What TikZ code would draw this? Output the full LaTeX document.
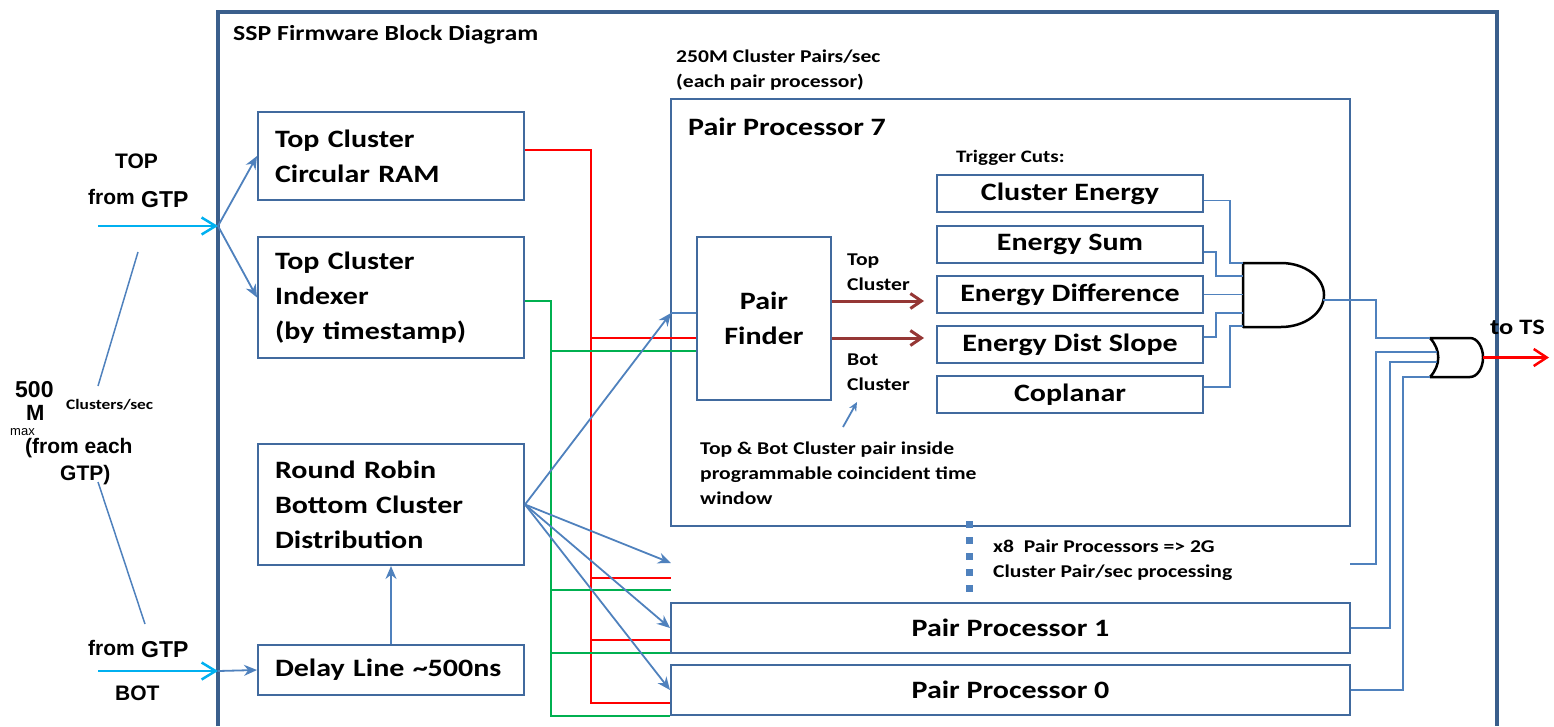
\documentclass[tikz,border=0pt]{standalone}
\usepackage{fontspec}
\setmainfont{Carlito}[FakeStretch=1.2]
\newfontfamily\arialfont{Liberation Sans}
\usetikzlibrary{arrows.meta}

\definecolor{framec}{RGB}{58,95,140}
\definecolor{boxc}{RGB}{65,106,158}
\definecolor{wirec}{RGB}{79,129,189}
\definecolor{gtpc}{RGB}{0,176,240}
\definecolor{topbus}{RGB}{255,0,0}
\definecolor{botbus}{RGB}{0,176,80}
\definecolor{pairc}{RGB}{149,55,53}

\newcommand\boxtxt{\fontsize{25}{35}\selectfont\bfseries}
\newcommand\lbltxt{\fontsize{18}{25}\selectfont\bfseries}
\newcommand\gtptxt{\arialfont\fontsize{21}{25}\selectfont\bfseries}

\begin{document}
\begin{tikzpicture}[x=1pt, y=-1pt,
    blk/.style={rectangle, draw=boxc, line width=2pt, inner xsep=17pt, inner ysep=0pt, text width=232pt, align=left, minimum height=#1, font=\boxtxt},
    cut/.style={rectangle, draw=boxc, line width=2pt, minimum width=266pt, minimum height=37pt, inner sep=0pt, font=\boxtxt},
    proc/.style={rectangle, draw=boxc, line width=2pt, minimum width=679pt, inner sep=0pt, font=\boxtxt},
    lbl/.style={inner sep=0pt, font=\lbltxt, align=left},
    gtp/.style={inner sep=0pt, font=\gtptxt},
    wire/.style={draw=wirec, line width=1.8pt},
    feed/.style={wire, -{Stealth[length=13pt,width=11pt]}},
    hint/.style={wire, -{Stealth[length=9pt,width=8pt]}},
    gtpin/.style={draw=gtpc, line width=2.5pt, -{Straight Barb[length=14pt,width=17pt]}},
    topline/.style={draw=topbus, line width=2pt},
    botline/.style={draw=botbus, line width=2pt},
    pairarrow/.style={draw=pairc, line width=3pt, -{Straight Barb[length=11pt,width=15pt]}},
    trig/.style={draw=topbus, line width=2.5pt, -{Straight Barb[length=13pt,width=17pt]}},
    gate/.style={draw=black, line width=2.5pt, line join=round}
]
\useasboundingbox (0,0) rectangle (1554,726);

% Frame
\draw[draw=framec, line width=3.5pt] (218,726) -- (218,12) -- (1497,12) -- (1497,726);
\node[lbl, font=\fontsize{21.5}{26}\selectfont\bfseries, anchor=west] (title) at (233,35) {SSP Firmware Block Diagram};

% Input blocks
\node[blk=88pt] (ram) at (391,156) {Top Cluster\\Circular RAM};
\node[blk=121pt] (idx) at (391,297.5) {Top Cluster\\Indexer\\(by timestamp)};
\node[blk=121pt] (rr) at (391,504.5) {Round Robin\\Bottom Cluster\\Distribution};
\node[blk=50pt] (delay) at (391,670) {Delay Line \textasciitilde500ns};

% Pair processors
\node[proc, minimum height=427pt] (pp7) at (1010.5,312.5) {};
\node[lbl, font=\boxtxt, anchor=west] (pp7name) at (688,127) {Pair Processor 7};
\node[proc, minimum height=50pt] (pp1) at (1010.5,628) {Pair Processor 1};
\node[proc, minimum height=50pt] (pp0) at (1010.5,690) {Pair Processor 0};
\node[rectangle, draw=boxc, line width=2pt, minimum width=134pt, minimum height=163pt, font=\boxtxt, align=center] (finder) at (764,318.5) {Pair\\Finder};

% Trigger cuts
\node[lbl, font=\fontsize{17.5}{20}\selectfont\bfseries, anchor=west] (cutsname) at (956,158) {Trigger Cuts:};
\node[cut] (ce) at (1070,193.5) {Cluster Energy};
\node[cut] (es) at (1070,244.3) {Energy Sum};
\node[cut] (ed) at (1070,294.5) {Energy Difference};
\node[cut] (eds) at (1070,344.8) {Energy Dist Slope};
\node[cut] (cp) at (1070,394.8) {Coplanar};

% Gates
\coordinate (and1) at (1243,263);
\coordinate (and2) at (1243,276);
\coordinate (and3) at (1243,294.5);
\coordinate (and4) at (1243,313);
\coordinate (and5) at (1243,326);
\coordinate (andout) at (1323,300);
\coordinate (or1) at (1430,338);
\coordinate (or2) at (1437,352);
\coordinate (or3) at (1437,362);
\coordinate (or4) at (1430,377);
\coordinate (orout) at (1483,357.5);
\coordinate (ts) at (1549,357.5);
\draw[gate] (1243,263) -- (1281,263) arc[start angle=90, end angle=-90, x radius=43pt, y radius=32pt] -- (1243,327) -- cycle;
\draw[gate] (1430,338) -- (1470,338) arc[start angle=90, end angle=-90, x radius=13pt, y radius=19.5pt] -- (1430,377) .. controls (1441,365) and (1441,350) .. (1430,338) -- cycle;

% Labels
\node[lbl, anchor=west] (rate) at (676,70) {250M Cluster Pairs/sec\\(each pair processor)};
\node[lbl, anchor=west] (toplbl) at (847,272.5) {Top\\Cluster};
\node[lbl, anchor=west] (botlbl) at (847,372.5) {Bot\\Cluster};
\node[lbl, anchor=west] (window) at (700,473) {Top \& Bot Cluster pair inside\\programmable coincident time\\window};
\node[lbl, anchor=west] (x8) at (993,560.5) {x8\ \ Pair Processors => 2G\\Cluster Pair/sec processing};
\node[lbl, font=\fontsize{22}{26}\selectfont\bfseries, anchor=west] (tots) at (1490,327) {to TS};

% GTP inputs
\node[gtp, anchor=base west] (toptag) at (115,168) {TOP};
\node[gtp, anchor=base west] (topfrom) at (88,204) {from};
\node[gtp, font=\arialfont\fontsize{23}{26}\selectfont\bfseries, anchor=base west] (topgtp) at (141,207) {GTP};
\node[gtp, font=\arialfont\fontsize{23}{26}\selectfont\bfseries, anchor=base west] (rate500) at (15,397) {500};
\node[gtp, font=\arialfont\fontsize{22}{26}\selectfont\bfseries, anchor=base west] (rateM) at (26,420) {M};
\node[gtp, font=\arialfont\fontsize{13}{15}\selectfont, anchor=base west] (ratemax) at (10,435.5) {max};
\node[lbl, font=\fontsize{14.5}{16}\selectfont\bfseries, anchor=west] (ratecl) at (66,405) {Clusters/sec};
\node[gtp, anchor=base west] (each) at (25,453) {(from each};
\node[gtp, anchor=base west] (eachgtp) at (60,480) {GTP)};
\node[gtp, anchor=base west] (botfrom) at (88,655) {from};
\node[gtp, font=\arialfont\fontsize{23}{26}\selectfont\bfseries, anchor=base west] (botgtp) at (141,657) {GTP};
\node[gtp, anchor=base west] (bottag) at (115,700) {BOT};

\coordinate (topsrc) at (98,226);
\coordinate (topport) at (218,226);
\coordinate (botsrc) at (98,671);
\coordinate (botport) at (218,671);
\coordinate (rateup) at (138,252);
\coordinate (ratelow) at (98,386);
\coordinate (eachlow) at (98,482);
\coordinate (eachbot) at (145,624);
\draw[wire, line width=1.5pt] (rateup) -- (ratelow);
\draw[wire, line width=1.5pt] (eachlow) -- (eachbot);
\draw[gtpin] (topsrc) -- (topport);
\draw[gtpin] (botsrc) -- (botport);
\draw[feed] (topport) -- (ram.west);
\draw[feed] (topport) -- (idx.west);
\draw[feed] (botport) -- (delay.west);
\draw[feed] (delay.north) -- (rr.south);

% Top cluster buses
\coordinate (redbus) at (591,150);
\coordinate (greenbus) at (551,301);
\coordinate (ghost) at (671,563);
\coordinate (ghostout) at (1350,564);
\draw[topline] ([yshift=6pt]ram.east) -- (redbus) -- (redbus |- 0,703) -- (pp0.west |- 0,703);
\draw[topline] (redbus |- 0,338) -- (finder.west |- 0,338);
\draw[topline] (redbus |- 0,578) -- (ghost |- 0,578);
\draw[topline] (redbus |- 0,640) -- (pp1.west |- 0,640);
\draw[botline] ([yshift=-3.5pt]idx.east) -- (greenbus) -- (greenbus |- 0,716) -- (pp0.west |- 0,716);
\draw[botline] (greenbus |- 0,351) -- (finder.west |- 0,351);
\draw[botline] (greenbus |- 0,590) -- (ghost |- 0,590);
\draw[botline] (greenbus |- 0,653) -- (pp1.west |- 0,653);

% Bottom cluster distribution
\coordinate (pp7in) at (671,313);
\draw[feed] (rr.east) -- (pp7in);
\draw[wire] (pp7in) -- (finder.west |- pp7in);
\draw[feed] (rr.east) -- (ghost);
\draw[feed] (rr.east) -- (pp1.west);
\draw[feed] (rr.east) -- (pp0.west);

% Pair finder outputs
\coordinate (topin) at (924,301);
\coordinate (botin) at (924,338);
\draw[pairarrow] (finder.east |- topin) -- (topin);
\draw[pairarrow] (finder.east |- botin) -- (botin);
\coordinate (notefoot) at (843,427);
\coordinate (notetip) at (857,402);
\draw[hint] (notefoot) -- (notetip);

% Cuts to AND
\draw[wire] ([yshift=-7pt]ce.east) -| (1230,263) -- (and1);
\draw[wire] ([yshift=-7.5pt]es.east) -| (1216,276) -- (and2);
\draw[wire] (ed.east) -- (and3);
\draw[wire] ([yshift=7.5pt]eds.east) -| (1216,313) -- (and4);
\draw[wire] ([yshift=8pt]cp.east) -| (1230,326) -- (and5);

% AND to OR
\draw[wire] (andout) -| (1376,338) -- (or1);
\draw[wire] (ghostout) -| (1376,352) -- (or2);
\draw[wire] (pp1.east) -| (1390,362) -- (or3);
\draw[wire] (pp0.east) -| (1403,377) -- (or4);
\draw[trig] (orout) -- (ts);

% x8 dots
\draw[draw=wirec, line width=7pt, dash pattern=on 7pt off 9pt] (969,521) -- (969,598);

\end{tikzpicture}
\end{document}
